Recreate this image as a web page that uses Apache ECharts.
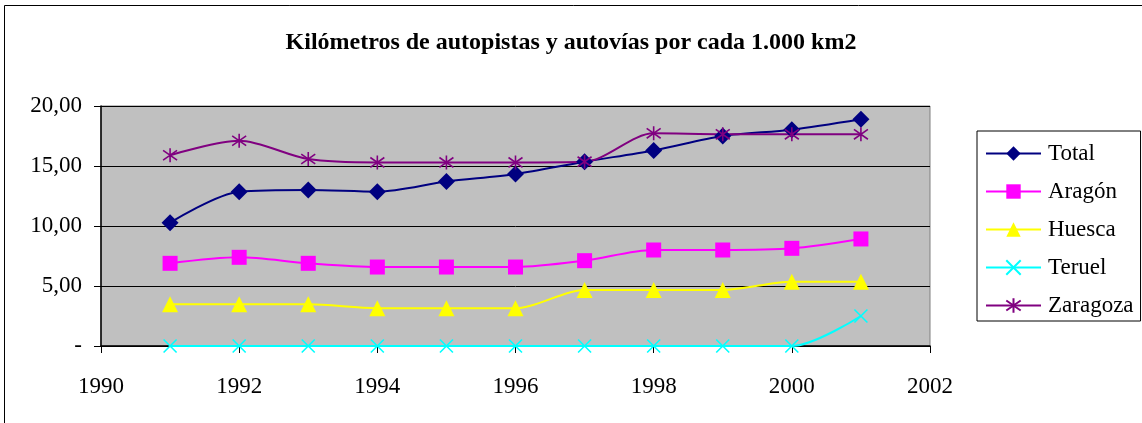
<!DOCTYPE html>
<html>
<head>
<meta charset="utf-8">
<script src="https://cdn.jsdelivr.net/npm/echarts@6/dist/echarts.min.js"></script>
<style>
  html, body { margin: 0; padding: 0; background: #fff; }
  #chart { width: 1142px; height: 423px; }
</style>
</head>
<body>
<div id="chart"></div>
<script>
var years = [1991, 1992, 1993, 1994, 1995, 1996, 1997, 1998, 1999, 2000, 2001];
var total    = [10.28, 12.86, 13.0, 12.86, 13.7, 14.33, 15.36, 16.3, 17.5, 18.03, 18.9];
var aragon   = [6.89, 7.39, 6.89, 6.58, 6.58, 6.58, 7.11, 8.0, 8.0, 8.14, 8.92];
var huesca   = [3.47, 3.47, 3.47, 3.14, 3.14, 3.14, 4.67, 4.67, 4.67, 5.36, 5.36];
var teruel   = [0, 0, 0, 0, 0, 0, 0, 0, 0, 0, 2.5];
var zaragoza = [15.9, 17.1, 15.58, 15.3, 15.3, 15.3, 15.36, 17.72, 17.64, 17.64, 17.64];

var serif = '"Liberation Serif", "DejaVu Serif", serif';

function pairs(vals) {
    return years.map(function (y, i) { return [y, vals[i]]; });
}

var crossPath = 'path://M0,0L10,10M10,0L0,10';
var starPath = 'path://M5,0L5,10M0,1.5L10,8.5M10,1.5L0,8.5';

function mk(name, vals, color, symbol, size, stroke) {
    return {
        name: name,
        type: 'line',
        smooth: 0.3,
        data: pairs(vals),
        symbol: symbol,
        symbolSize: size,
        color: color,
        lineStyle: { color: color, width: 2 },
        itemStyle: stroke ? { color: color, borderColor: color, borderWidth: 1.6 } : { color: color, borderWidth: 0 }
    };
}

var chart = echarts.init(document.getElementById('chart'));
chart.setOption({
    animation: false,
    backgroundColor: '#fff',
    textStyle: { fontFamily: serif },
    graphic: [{
        type: 'rect',
        shape: { x: 4.5, y: 5.5, width: 1145, height: 430 },
        style: { fill: 'none', stroke: '#000', lineWidth: 1 },
        silent: true
    }],
    title: {
        text: 'Kilómetros de autopistas y autovías por cada 1.000 km2',
        left: 'center',
        top: 26,
        textStyle: { fontFamily: serif, fontSize: 24, fontWeight: 'bold', color: '#000' }
    },
    legend: {
        orient: 'vertical',
        left: 977,
        top: 131,
        padding: [11, 7, 4, 8],
        itemWidth: 55,
        itemHeight: 18,
        itemGap: 15,
        borderColor: '#000',
        borderWidth: 1,
        textStyle: { fontFamily: serif, fontSize: 23, color: '#000', padding: [0, 0, 0, 2] },
        data: ['Total', 'Aragón', 'Huesca', 'Teruel', 'Zaragoza']
    },
    grid: {
        left: 101,
        right: 212,
        top: 106,
        bottom: 77,
        show: true,
        backgroundColor: '#C0C0C0',
        borderColor: '#808080',
        borderWidth: 1
    },
    xAxis: {
        type: 'value',
        min: 1990,
        max: 2002,
        interval: 2,
        axisLine: { show: true, onZero: false, lineStyle: { color: '#000', width: 1.5 } },
        axisTick: { show: true, length: 7, lineStyle: { color: '#000' } },
        splitLine: { show: false },
        axisLabel: {
            fontFamily: serif, fontSize: 23, color: '#000', margin: 29,
            formatter: function (v) { return String(v); }
        }
    },
    yAxis: {
        type: 'value',
        min: 0,
        max: 20,
        interval: 5,
        axisLine: { show: true, lineStyle: { color: '#000', width: 1.5 } },
        axisTick: { show: true, length: 7, lineStyle: { color: '#000' } },
        splitLine: { show: true, lineStyle: { color: '#000', width: 1 } },
        axisLabel: {
            fontFamily: serif, fontSize: 23, color: '#000', margin: 19,
            formatter: function (v) { return v === 0 ? '-' : v.toFixed(2).replace('.', ','); }
        }
    },
    series: [
        mk('Total', total, '#000080', 'diamond', 17, false),
        mk('Aragón', aragon, '#FF00FF', 'rect', 15, false),
        mk('Huesca', huesca, '#FFFF00', 'triangle', 16, false),
        mk('Teruel', teruel, '#00FFFF', crossPath, 13, true),
        mk('Zaragoza', zaragoza, '#800080', starPath, 14, true)
    ]
});
</script>
</body>
</html>
